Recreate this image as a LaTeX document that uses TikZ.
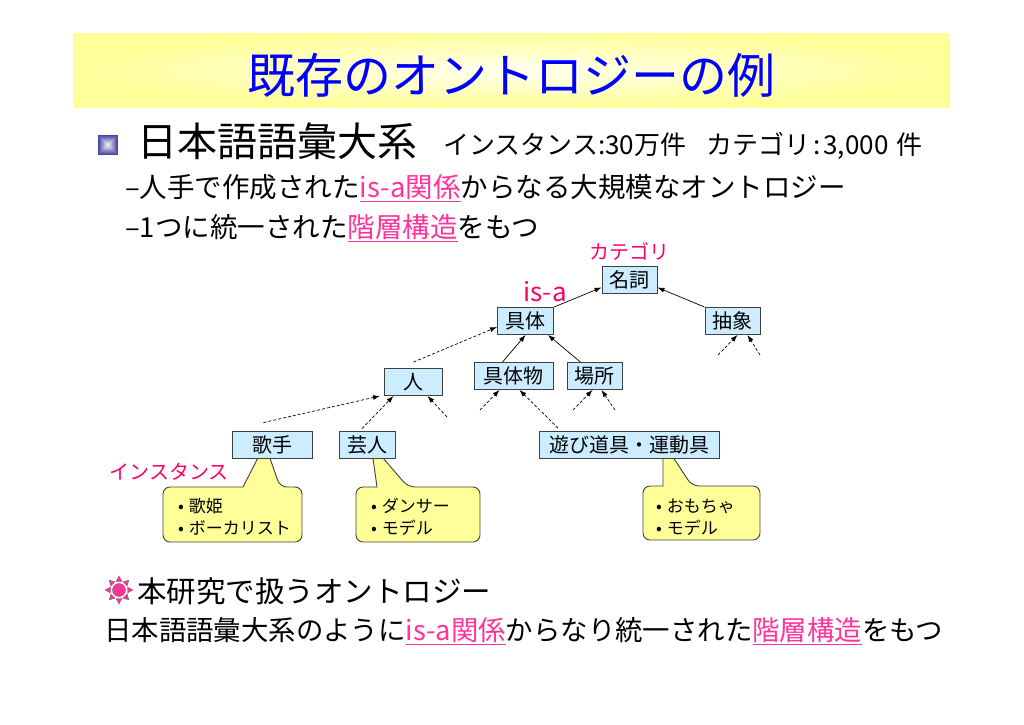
\documentclass[tikz,border=0pt]{standalone}
\usepackage{fontspec}
\setmainfont{Noto Sans CJK JP}
\usetikzlibrary{arrows.meta}
\definecolor{titleblue}{RGB}{0,0,255}
\definecolor{bandyellow}{RGB}{255,255,153}
\definecolor{catblue}{RGB}{204,236,255}
\definecolor{bubbleyellow}{RGB}{255,255,153}
\definecolor{linkpink}{RGB}{255,51,153}
\definecolor{labelpink}{RGB}{255,0,102}
\definecolor{squareblue}{RGB}{70,70,160}
\newcommand{\fsize}[1]{\fontsize{#1}{#1}\selectfont}
\newcommand{\pinkul}[1]{{\color{linkpink}\underline{#1}}}
\begin{document}
\begin{tikzpicture}[x=1pt,y=-1pt,>={Latex[length=7pt,width=5pt]},
every node/.style={inner sep=0pt},
cat/.style={rectangle,draw=black!75,fill=catblue,line width=0.9pt,
minimum width=55pt,minimum height=27pt,font=\fsize{20}},
isa/.style={->,line width=0.7pt},
isadash/.style={->,line width=0.7pt,dash pattern=on 3pt off 2pt},
bubble/.style={draw=black!75,fill=bubbleyellow,line width=0.9pt},
item/.style={anchor=west,font=\fsize{17}},
textline/.style={anchor=west}]
\useasboundingbox (0,0) rectangle (1024,724);
% title band
\shade[inner color=bandyellow!15,outer color=bandyellow] (73,33) rectangle (950,107);
\node (title) at (511,75) [font=\fsize{48},text=titleblue]
{既存のオントロジーの例};
% bullet square
\foreach \i in {0,...,9} {
\pgfmathsetmacro\c{100-10*\i}
\fill[squareblue!\c!white] (98+\i,135+\i) rectangle (118-\i,155-\i);
}
\node (goi) at (137,141) [textline,font=\fsize{40}] {日本語語彙大系};
\node (kensu) at (443,146) [textline,font=\fsize{26}]
{インスタンス:30万件\hspace{20pt}カテゴリ\hspace{3pt}:\hspace{3pt}3,000\hspace{8pt}件};
\node (line2) at (125,188) [textline,font=\fsize{27.5}]
{–人手で作成された\pinkul{is-a関係}からなる大規模なオントロジー};
\node (line3) at (125,228) [textline,font=\fsize{27.5}]
{–1つに統一された\pinkul{階層構造}をもつ};
% callouts
\draw[bubble,rounded corners=7pt] (243,487) -- (163,487) -- (163,542) --
(302,542) -- (302,487) -- (280,487) [sharp corners] -- (265,444) -- cycle;
\draw[bubble,rounded corners=7pt] (377,487) -- (356,487) -- (356,542) --
(480,542) -- (480,487) -- (408,487) [sharp corners] -- (371,444) -- cycle;
\draw[bubble,rounded corners=7pt] (663,486) -- (643,486) -- (643,540) --
(760,540) -- (760,486) -- (692,486) [sharp corners] -- (663,442) -- cycle;
\node (utahime) at (178,506) [item] {•\hspace{5pt}歌姫};
\node (vocalist) at (178,528) [item] {•\hspace{5pt}ボーカリスト};
\node (dancer) at (371,506) [item] {•\hspace{5pt}ダンサー};
\node (model1) at (371,528) [item] {•\hspace{5pt}モデル};
\node (omocha) at (656,506) [item] {•\hspace{5pt}おもちゃ};
\node (model2) at (656,528) [item] {•\hspace{5pt}モデル};
% categories
\node (meishi) at (629.5,279.5) [cat] {名詞};
\node (gutai) at (525.5,321) [cat,minimum width=56pt] {具体};
\node (chusho) at (732.5,321) [cat] {抽象};
\node (hito) at (413.5,382) [cat,minimum width=58pt] {人};
\node (gutaibutsu) at (513.5,376) [cat,minimum width=79pt] {具体物};
\node (basho) at (594.5,376) [cat] {場所};
\node (kashu) at (272.5,444.5) [cat,minimum width=80pt] {歌手};
\node (geinin) at (367,444.5) [cat,minimum width=56pt] {芸人};
\node (asobi) at (629,445) [cat,minimum width=180pt] {遊び道具・運動具};
% labels
\node (catlabel) at (629,251) [font=\fsize{20},text=labelpink] {カテゴリ};
\node (isalabel) at (545,292) [font=\fsize{26},text=labelpink] {is-a};
\node (instlabel) at (169,472) [font=\fsize{20},text=labelpink] {インスタンス};
% is-a links
\draw [isa] (gutai.north east) -- ([yshift=6pt]meishi.south west);
\draw [isa] (chusho.north west) -- ([yshift=6pt]meishi.south east);
\draw [isa] ([xshift=-11pt]gutaibutsu.north) -- (gutai.south);
\draw [isa] ([xshift=-14pt]basho.north) -- ([xshift=-6pt]gutai.south east);
\draw [isadash] ([yshift=6pt]hito.north) -- ([yshift=-6pt]gutai.west);
\draw [isadash] ([xshift=-9pt,yshift=8pt]kashu.north) -- ([xshift=-4pt]hito.south west);
\draw [isadash] ([xshift=-5pt,yshift=2pt]geinin.north) -- ([xshift=-20pt]hito.south);
\draw [isadash] ([xshift=-71pt,yshift=3pt]asobi.north) -- ([xshift=6pt]gutaibutsu.south);
% open ends
\coordinate (h1) at (447,417);
\coordinate (g1) at (480,410);
\coordinate (b1) at (573,410);
\coordinate (b2) at (615,410);
\coordinate (c1) at (718,355);
\coordinate (c2) at (760,355);
\draw [isadash] (h1) -- ([xshift=14pt]hito.south);
\draw [isadash] (g1) -- ([xshift=-14pt]gutaibutsu.south);
\draw [isadash] (b1) -- ([xshift=-2pt]basho.south);
\draw [isadash] (b2) -- ([xshift=7pt]basho.south);
\draw [isadash] (c1) -- ([xshift=5pt]chusho.south);
\draw [isadash] (c2) -- ([xshift=15pt]chusho.south);
% sun icon
\foreach \a in {0,45,...,315}
\filldraw[fill=linkpink,draw=black!60,line width=0.3pt,rotate around={\a:(119,590)}]
(133,590) -- (127.5,587) -- (127.5,593) -- cycle;
\filldraw[fill=linkpink,draw=black!60,line width=0.4pt] (119,590) circle (6.5);
\node (honken) at (137,591) [textline,font=\fsize{29.5}] {本研究で扱うオントロジー};
\node (line4) at (104,631) [textline,font=\fsize{27.4}]
{日本語語彙大系のように\pinkul{is-a関係}からなり統一された\pinkul{階層構造}をもつ};
\end{tikzpicture}
\end{document}
